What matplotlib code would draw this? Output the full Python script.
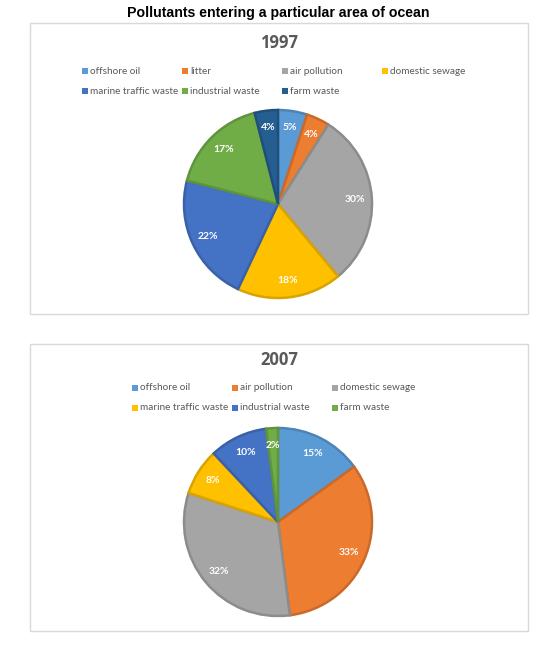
import matplotlib
matplotlib.use("Agg")
import matplotlib.pyplot as plt
from matplotlib.patches import Rectangle
import matplotlib.colors as mcolors

# ---- data ----
title = "Pollutants entering a particular area of ocean"
year1 = "1997"
cats1 = ["offshore oil", "litter", "air pollution", "domestic sewage",
         "marine traffic waste", "industrial waste", "farm waste"]
vals1 = [5, 4, 30, 18, 22, 17, 4]
cols1 = ["#5B9BD5", "#ED7D31", "#A5A5A5", "#FFC000", "#4472C4", "#70AD47", "#255E91"]

year2 = "2007"
cats2 = ["offshore oil", "air pollution", "domestic sewage",
         "marine traffic waste", "industrial waste", "farm waste"]
vals2 = [15, 33, 32, 8, 10, 2]
cols2 = ["#5B9BD5", "#ED7D31", "#A5A5A5", "#FFC000", "#4472C4", "#70AD47"]

W, H = 559, 658
DPI = 100
fig = plt.figure(figsize=(W / DPI, H / DPI), dpi=DPI)
fig.patch.set_facecolor("white")

def fx(px):
    return px / W

def fy(py):
    return 1 - py / H

def darker(c, f=0.85):
    r, g, b = mcolors.to_rgb(c)
    return (r * f, g * f, b * f)

LEG_FONT = "Lato"
TXT = "#595959"

fig.text(fx(278), fy(13), title, ha="center", va="center",
         fontsize=10.2, fontweight="bold", family="Liberation Sans", color="black")

def panel(top, bottom, year, year_y, cats, vals, cols, leg_x0, leg_y, ncol, pie_cy):
    # box
    fig.patches.append(Rectangle((fx(30), fy(bottom)), fx(528) - fx(30), fy(top) - fy(bottom),
                                 transform=fig.transFigure, fill=False,
                                 edgecolor="#D9D9D9", linewidth=1.0))
    fig.text(fx(279), fy(year_y), year, ha="center", va="center", fontsize=12,
             fontweight="bold", family="Open Sans", color=TXT)
    # legend
    for i, (c, col) in enumerate(zip(cats, cols)):
        r, k = divmod(i, ncol)
        mx = leg_x0 + k * 100
        my = leg_y + r * 20
        fig.patches.append(Rectangle((fx(mx), fy(my + 3)), fx(6), 6 / H,
                                     transform=fig.transFigure, facecolor=col,
                                     edgecolor="none"))
        fig.text(fx(mx + 8.5), fy(my), c, ha="left", va="center", fontsize=7.2,
                 family=LEG_FONT, color=TXT)
    # pie
    R = 94
    ax = fig.add_axes([fx(278 - R), fy(pie_cy + R), 2 * R / W, 2 * R / H])
    wedges, texts, autotexts = ax.pie(
        vals, colors=cols, startangle=90, counterclock=False,
        autopct=lambda p: f"{p:.0f}%", pctdistance=0.82,
        wedgeprops=dict(linewidth=1.8),
        textprops=dict(color="white", fontsize=7.5, fontweight="bold", family="Lato"))
    for w, col in zip(wedges, cols):
        w.set_edgecolor(darker(col))
        w.set_joinstyle("miter")
    ax.set_xlim(-1, 1)
    ax.set_ylim(-1, 1)
    ax.set_aspect("equal")
    ax.axis("off")

panel(23, 314, year1, 43, cats1, vals1, cols1, 82, 71, 4, 204)
panel(344, 631, year2, 360, cats2, vals2, cols2, 132, 388, 3, 522)

fig.savefig("out.png", dpi=DPI, facecolor="white")
